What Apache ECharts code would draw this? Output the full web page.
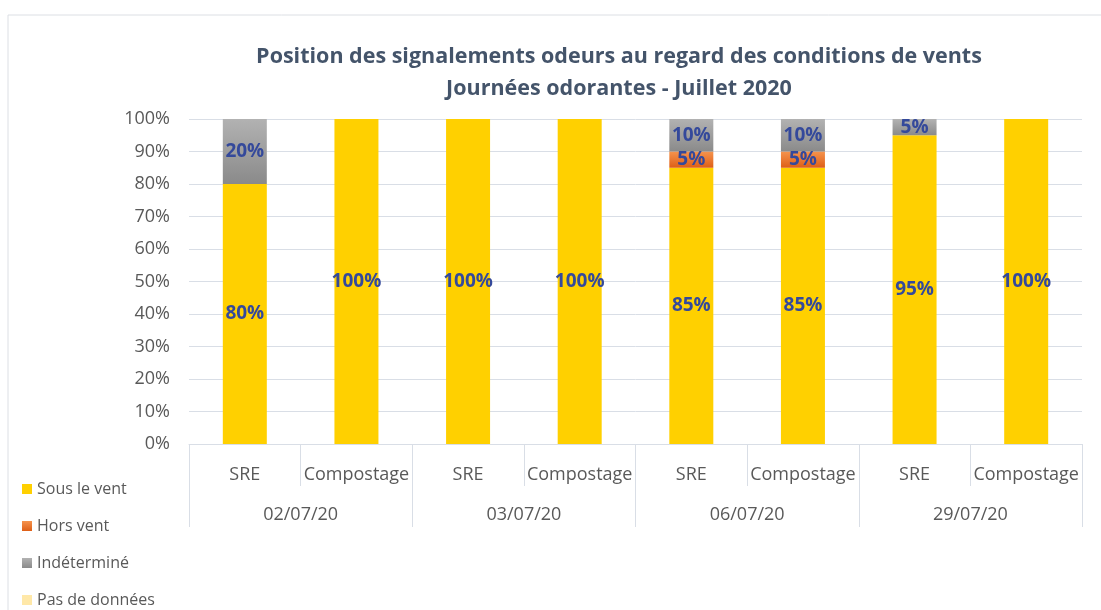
<!DOCTYPE html>
<html>
<head>
<meta charset="utf-8">
<script src="https://cdn.jsdelivr.net/npm/echarts@6/dist/echarts.min.js"></script>
<style>
  html, body { margin: 0; padding: 0; background: #fff; }
  #chart { width: 1101px; height: 610px; }
</style>
</head>
<body>
<div id="chart"></div>
<script>
"use strict";

// catégories (niveau 1 et niveau 2)
var sites = ['SRE', 'Compostage', 'SRE', 'Compostage', 'SRE', 'Compostage', 'SRE', 'Compostage'];
var dates = ['02/07/20', '03/07/20', '06/07/20', '29/07/20'];

// valeurs en %
var sousLeVent = [80, 100, 100, 100, 85, 85, 95, 100];
var horsVent = [0, 0, 0, 0, 5, 5, 0, 0];
var indetermine = [20, 0, 0, 0, 10, 10, 5, 0];
var pasDeDonnees = [0, 0, 0, 0, 0, 0, 0, 0];

var yTicks = [0, 10, 20, 30, 40, 50, 60, 70, 80, 90, 100];

var FONT = '"Open Sans", "Noto Sans", sans-serif';
var GREY_TXT = '#595959';
var LINE = '#d9dee6';

var chart = echarts.init(document.getElementById('chart'));

var labelStyle = {
  show: true,
  position: 'inside',
  color: '#34499b',
  fontFamily: FONT,
  fontWeight: 'bold',
  fontSize: 19,
  formatter: function(p) {
    return p.value > 0 ? p.value + '%' : '';
  }
};

function grad(top, bottom) {
  return new echarts.graphic.LinearGradient(0, 0, 0, 1, [
    { offset: 0, color: top },
    { offset: 1, color: bottom }
  ]);
}

var option = {
  backgroundColor: '#fff',
  animation: false,
  title: {
    text: 'Position des signalements odeurs au regard des conditions de vents\nJournées odorantes - Juillet 2020',
    left: 619,
    top: 41,
    textAlign: 'center',
    padding: 0,
    textStyle: {
      fontFamily: FONT,
      fontWeight: 'bold',
      fontSize: 21.5,
      lineHeight: 32,
      color: '#44546a'
    }
  },
  legend: {
    orient: 'vertical',
    left: 22,
    top: 481,
    padding: 0,
    icon: 'rect',
    itemWidth: 10,
    itemHeight: 10,
    itemGap: 21,
    textStyle: { fontFamily: FONT, fontSize: 16, color: GREY_TXT, lineHeight: 16 },
    data: ['Sous le vent', 'Hors vent', 'Indéterminé', 'Pas de données']
  },
  graphic: [{
    type: 'rect',
    shape: { x: 8, y: 15, width: 1200, height: 700 },
    style: { fill: 'none', stroke: '#dcdfe4', lineWidth: 1 },
    silent: true
  }],
  grid: { left: 189, right: 19, top: 119, bottom: 166 },
  xAxis: [{
    type: 'category',
    position: 'bottom',
    data: sites,
    axisLine: { show: true, lineStyle: { color: LINE } },
    axisTick: { show: true, alignWithLabel: false, interval: 0, length: 42, lineStyle: { color: LINE } },
    axisLabel: { interval: 0, margin: 22, fontFamily: FONT, fontSize: 18, color: GREY_TXT }
  }, {
    type: 'category',
    position: 'bottom',
    offset: 0,
    data: dates,
    axisLine: { show: false },
    axisTick: { show: true, interval: 0, length: 83, lineStyle: { color: LINE } },
    axisLabel: { interval: 0, margin: 62, fontFamily: FONT, fontSize: 18, color: GREY_TXT }
  }],
  yAxis: {
    type: 'value',
    min: yTicks[0],
    max: yTicks[yTicks.length - 1],
    interval: 10,
    axisLine: { show: false },
    axisTick: { show: false },
    splitLine: { lineStyle: { color: LINE, width: 1 } },
    axisLabel: { margin: 19, fontFamily: FONT, fontSize: 18, color: GREY_TXT, formatter: '{value}%' }
  },
  series: [{
    name: 'Sous le vent',
    type: 'bar',
    stack: 'total',
    barWidth: 44,
    data: sousLeVent,
    itemStyle: { color: '#ffd000' },
    label: labelStyle
  }, {
    name: 'Hors vent',
    type: 'bar',
    stack: 'total',
    barWidth: 44,
    data: horsVent,
    itemStyle: { color: grad('#f5934d', '#de5f17') },
    label: labelStyle
  }, {
    name: 'Indéterminé',
    type: 'bar',
    stack: 'total',
    barWidth: 44,
    data: indetermine,
    itemStyle: { color: grad('#b2b2b2', '#8a8a8a') },
    label: labelStyle
  }, {
    name: 'Pas de données',
    type: 'bar',
    stack: 'total',
    barWidth: 44,
    data: pasDeDonnees,
    itemStyle: { color: '#ffe8a8' },
    label: labelStyle
  }]
};

chart.setOption(option);
</script>
</body>
</html>
